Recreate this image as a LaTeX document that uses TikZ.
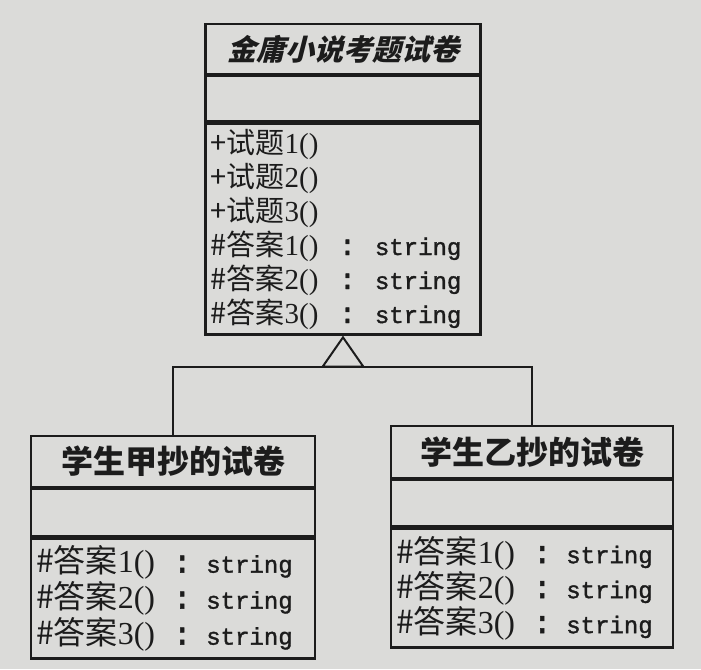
\documentclass[tikz,border=0pt]{standalone}
\usepackage{fontspec}
\setmainfont{Liberation Serif}
\newfontfamily\zh{Noto Sans CJK SC}
\newfontfamily\zhsl{Noto Sans CJK SC}[FakeSlant=0.25]
\newfontfamily\strfont{Liberation Mono}[FakeBold=1.5]
\usepackage{tikz}
\usetikzlibrary{arrows.meta,positioning}
\definecolor{Paper}{HTML}{DBDBD9}
\definecolor{Ink}{HTML}{1C1C1C}
% one member line of the exam paper classes
\newcommand{\gapl}{0.7em}
\newcommand{\gapr}{0.65em}
\newcommand{\ques}[1]{{\zh +试题}#1()}
\newcommand{\answ}[1]{{\zh \#答案}#1()\hspace{\gapl}{\strfont:}\hspace{\gapr}{\strfont\fontsize{24}{30}\selectfont string}}

\tikzset{
  umlbox/.style={draw=Ink,line width=2.2pt,inner xsep=5pt,inner ysep=0pt,text=Ink},
  umltitle/.style={umlbox,anchor=north,align=center,font=\zh\bfseries\fontsize{32}{36}\selectfont},
  umlattr/.style={umlbox},
  umlmeth/.style={umlbox,align=left,font=\fontsize{29}{34}\selectfont},
  gen/.style={draw=Ink,line width=2pt}
}

\begin{document}
\begin{tikzpicture}[x=1pt,y=-1pt]
  \fill[Paper] (0,0) rectangle (701,669);
  \useasboundingbox (0,0) rectangle (701,669);

  % abstract exam paper
  \node[umltitle,minimum width=275pt,minimum height=50pt,font=\zhsl\bfseries\fontsize{29}{34}\selectfont] (papertitle) at (343,23) {金庸小说考题试卷};
  \node[umlattr,minimum width=275pt,minimum height=45pt,below=0pt of papertitle] (paperattr) {};
  \node[umlmeth,minimum width=275pt,minimum height=211pt,text width=265pt,below=0pt of paperattr] (papermeth)
  {\ques{1}\\\ques{2}\\\ques{3}\\\answ{1}\\\answ{2}\\\answ{3}};

  % student A
  \node[umltitle,minimum width=284pt,minimum height=51pt] (atitle) at (173,435) {学生甲抄的试卷};
  \node[umlattr,minimum width=284pt,minimum height=47pt,below=0pt of atitle] (aattr) {};
  \node[umlmeth,minimum width=284pt,minimum height=120pt,text width=274pt,
        font=\fontsize{32}{36}\selectfont\def\gapl{0.55em}\def\gapr{0.45em},below=0pt of aattr] (ameth)
  {\answ{1}\\\answ{2}\\\answ{3}};

  % student B
  \node[umltitle,minimum width=282pt,minimum height=52pt] (btitle) at (532,425) {学生乙抄的试卷};
  \node[umlattr,minimum width=282pt,minimum height=46pt,below=0pt of btitle] (battr) {};
  \node[umlmeth,minimum width=282pt,minimum height=119pt,text width=272pt,
        font=\fontsize{32}{35}\selectfont\def\gapl{0.55em}\def\gapr{0.45em},below=0pt of battr] (bmeth)
  {\answ{1}\\\answ{2}\\\answ{3}};

  % generalisation
  \coordinate (fork) at (343,367);
  \draw[gen] (atitle.north) |- (fork) -| (btitle.north);
  \draw[gen,-{Triangle[open,length=32pt,width=44pt,line width=2pt]}] (fork) -- (papermeth.south);
\end{tikzpicture}
\end{document}
